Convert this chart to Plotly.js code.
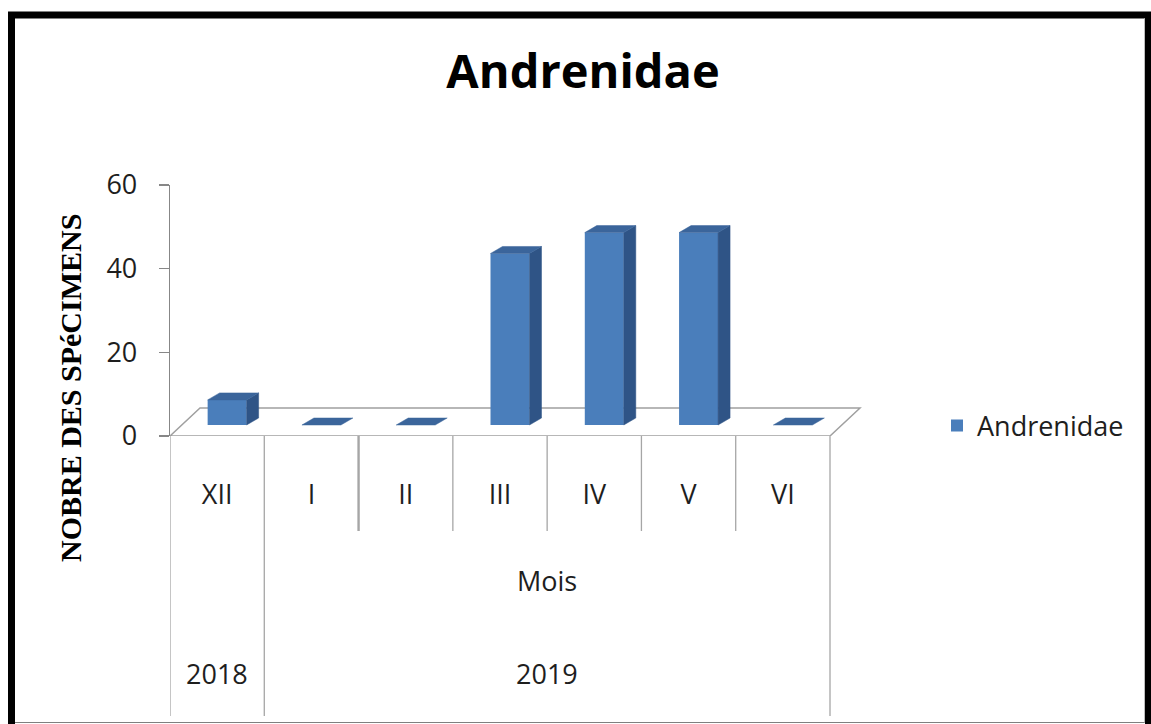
<!DOCTYPE html>
<html>
<head>
<meta charset="utf-8">
<script src="https://cdn.plot.ly/plotly-3.0.1.min.js"></script>
<style>
  html, body { margin: 0; padding: 0; background: #ffffff; }
  #chart { width: 1151px; height: 724px; }
</style>
</head>
<body>
<div id="chart"></div>
<script>
// ---- data ----
const months = ['XII', 'I', 'II', 'III', 'IV', 'V', 'VI'];
const counts = [6, 0, 0, 41, 46, 46, 0];
const level2 = ['', 'Mois', 'Mois', 'Mois', 'Mois', 'Mois', 'Mois'];
const years = ['2018', '2019', '2019', '2019', '2019', '2019', '2019'];
const yTicks = [0, 20, 40, 60];
const seriesName = 'Andrenidae';
const yTitle = 'NOBRE DES SPéCIMENS';

// ---- layout geometry (pixels) ----
const W = 1151, H = 724;
const L = 170, R = 863, T = 185, B = 436;
const plotW = R - L, plotH = B - T;
const n = months.length;
const catPx = 660 / n;
const yMax = 60;
const unitPx = plotH / yMax;
const xMin = -0.5, xMax = -0.5 + plotW / catPx;

// 3-D look, converted to data units
const FLOOR_DX = 30 / catPx, FLOOR_DY = 28 / unitPx;
const BAR_BASE = 11 / unitPx;
const BAR_OFF = -9.5 / catPx, BAR_W = 39 / catPx;
const SIDE_DX = 12 / catPx, SIDE_DY = 7 / unitPx;

const FRONT = '#4a7ebb', SIDE = '#2f5486', TOP = '#3b659b';

const px2paperX = p => (p - L) / plotW;
const py2paperY = p => (B - p) / plotH;

// side and top faces from data
const sideX = [], sideY = [], topX = [], topY = [];
months.forEach((m, i) => {
  const v = counts[i];
  const xl = i + BAR_OFF, xr = xl + BAR_W;
  const b = BAR_BASE, t = BAR_BASE + v;
  if (v > 0) {
    sideX.push(xr, xr + SIDE_DX, xr + SIDE_DX, xr, xr, null);
    sideY.push(b, b + SIDE_DY, t + SIDE_DY, t, b, null);
  }
  topX.push(xl, xr, xr + SIDE_DX, xl + SIDE_DX, xl, null);
  topY.push(t, t, t + SIDE_DY, t + SIDE_DY, t, null);
});

const traces = [
  {
    type: 'bar', name: seriesName,
    x: months.map((m, i) => i), y: counts,
    base: BAR_BASE, width: BAR_W, offset: BAR_OFF,
    marker: { color: FRONT, line: { width: 0 } },
    hoverinfo: 'skip', showlegend: true
  },
  {
    type: 'scatter', mode: 'lines', x: sideX, y: sideY,
    fill: 'toself', fillcolor: SIDE, line: { width: 0.5, color: SIDE },
    hoverinfo: 'skip', showlegend: false
  },
  {
    type: 'scatter', mode: 'lines', x: topX, y: topY,
    fill: 'toself', fillcolor: TOP, line: { width: 0.5, color: TOP },
    hoverinfo: 'skip', showlegend: false
  }
];

// dividers and group labels derived from the category levels
const shapes = [];
const annotations = [];
const GRID = '#a6a6a6';
const shortBottom = py2paperY(531);
const longBottom = py2paperY(716);
for (let k = 0; k <= n; k++) {
  const xb = k - 0.5;
  const isEdge = (k === 0 || k === n);
  const groupChange = !isEdge && (years[k] !== years[k - 1] || level2[k] !== level2[k - 1]);
  shapes.push({
    type: 'line', xref: 'x', yref: 'paper',
    x0: xb, x1: xb, y0: 0, y1: (isEdge || groupChange) ? longBottom : shortBottom,
    line: { color: GRID, width: k === 2 ? 2.4 : 1.3 }
  });
}
function groups(arr) {
  const out = [];
  let s = 0;
  for (let i = 1; i <= arr.length; i++) {
    if (i === arr.length || arr[i] !== arr[s]) { out.push({ label: arr[s], from: s, to: i - 1 }); s = i; }
  }
  return out;
}
const labelFont = { family: 'Open Sans, sans-serif', size: 27, color: '#1e1e1e' };
groups(level2).forEach(g => {
  if (!g.label) return;
  annotations.push({ xref: 'x', yref: 'paper', x: (g.from + g.to) / 2, y: py2paperY(580),
    text: g.label, showarrow: false, font: labelFont, yanchor: 'middle' });
});
groups(years).forEach(g => {
  annotations.push({ xref: 'x', yref: 'paper', x: (g.from + g.to) / 2, y: py2paperY(673),
    text: g.label, showarrow: false, font: labelFont, yanchor: 'middle' });
});

// value-axis title
annotations.push({
  xref: 'paper', yref: 'paper', x: px2paperX(70), y: py2paperY(388),
  xanchor: 'center', yanchor: 'middle', textangle: -90, showarrow: false,
  text: yTitle,
  font: { family: 'Liberation Serif, serif', size: 30, color: '#000000', weight: 'bold' }
});

// floor of the 3-D plot
shapes.push({
  type: 'path', xref: 'x', yref: 'y', layer: 'below',
  path: `M${xMin},0 L${n - 0.5},0 L${n - 0.5 + FLOOR_DX},${FLOOR_DY} L${xMin + FLOOR_DX},${FLOOR_DY} Z`,
  fillcolor: '#ffffff', line: { color: '#a0a0a0', width: 1.5 }
});

// outer black frame
shapes.push({
  type: 'rect', xref: 'paper', yref: 'paper',
  x0: px2paperX(11.5), x1: px2paperX(1148.5), y0: py2paperY(730), y1: py2paperY(15),
  line: { color: '#000000', width: 7 }, fillcolor: 'rgba(0,0,0,0)'
});
shapes.push({
  type: 'line', xref: 'paper', yref: 'paper',
  x0: px2paperX(15), x1: px2paperX(1145), y0: py2paperY(722.5), y1: py2paperY(722.5),
  line: { color: '#7f7f7f', width: 1 }
});
shapes.push({
  type: 'line', xref: 'paper', yref: 'paper',
  x0: px2paperX(1144.5), x1: px2paperX(1144.5), y0: py2paperY(722.5), y1: py2paperY(18.5),
  line: { color: '#bdbdbd', width: 1 }
});

const layout = {
  width: W, height: H,
  margin: { l: L, r: W - R, t: T, b: H - B, pad: 0 },
  paper_bgcolor: '#ffffff', plot_bgcolor: 'rgba(0,0,0,0)',
  title: {
    text: seriesName, x: 583 / W, xanchor: 'center', y: 1 - 72 / H, yanchor: 'middle',
    font: { family: 'Open Sans, sans-serif', size: 47, color: '#000000', weight: 'bold' }
  },
  xaxis: {
    range: [xMin, xMax], showgrid: false, zeroline: false, showline: false,
    tickmode: 'array', tickvals: months.map((m, i) => i), ticktext: months,
    ticks: '', ticklabelstandoff: 40, tickfont: labelFont, fixedrange: true
  },
  yaxis: {
    range: [0, yMax], showgrid: false, zeroline: false,
    showline: true, linecolor: '#878787', linewidth: 1.3,
    ticks: 'outside', ticklen: 10, tickcolor: '#878787', tickwidth: 1.3,
    tickmode: 'array', tickvals: yTicks, ticktext: yTicks.map(String),
    ticklabelstandoff: 16, tickfont: labelFont, fixedrange: true
  },
  legend: {
    x: px2paperX(937), xanchor: 'left', y: py2paperY(426), yanchor: 'middle',
    bgcolor: 'rgba(0,0,0,0)', font: { family: 'Open Sans, sans-serif', size: 27, color: '#1e1e1e' }
  },
  showlegend: true,
  shapes: shapes,
  annotations: annotations
};

Plotly.newPlot('chart', traces, layout, { displayModeBar: false, staticPlot: true });
</script>
</body>
</html>
